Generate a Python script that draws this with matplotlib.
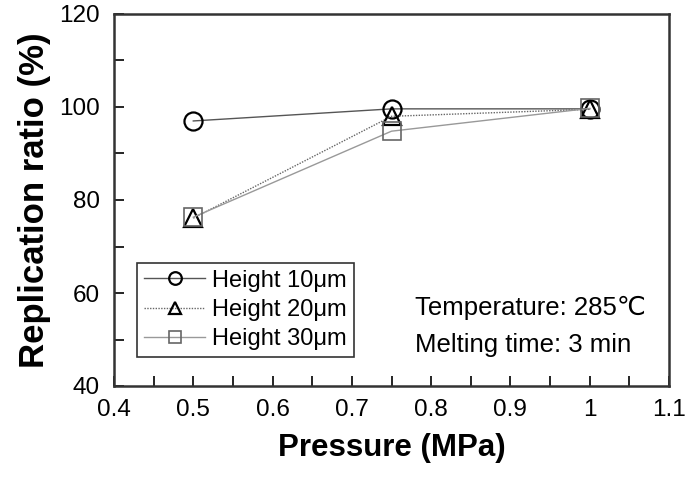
import numpy as np
import matplotlib.pyplot as plt
from matplotlib.ticker import MultipleLocator

plt.rcParams['font.family'] = ['Liberation Sans', 'DejaVu Sans']

pressure = [0.5, 0.75, 1.0]
h10 = [97.0, 99.6, 99.6]
h20 = [76.1, 98.0, 99.5]
h30 = [76.3, 94.8, 99.7]
labels = ['Height 10μm', 'Height 20μm', 'Height 30μm']
xticks = [0.4, 0.5, 0.6, 0.7, 0.8, 0.9, 1.0, 1.1]
xticklabels = ['0.4', '0.5', '0.6', '0.7', '0.8', '0.9', '1', '1.1']

fig = plt.figure(figsize=(6.85, 4.8), dpi=100)
ax = fig.add_axes([114 / 685, 1 - 386 / 480, (669 - 114) / 685, (386 - 14) / 480])

ax.plot(pressure, h10, color='#555555', lw=1.0, marker='o', ms=13,
        mfc='none', mec='black', mew=1.6, label=labels[0])
ax.plot(pressure, h20, color='#666666', lw=1.0, ls=(0, (1, 1)), marker='^', ms=13,
        mfc='none', mec='black', mew=1.6, label=labels[1])
ax.plot(pressure, h30, color='#999999', lw=1.0, marker='s', ms=13,
        mfc='none', mec='#666666', mew=1.2, label=labels[2])

ax.set_xlim(0.4, 1.1)
ax.set_ylim(40, 120)
ax.set_xticks(xticks)
ax.set_xticklabels(xticklabels)
ax.xaxis.set_minor_locator(MultipleLocator(0.05))
ax.yaxis.set_major_locator(MultipleLocator(20))
ax.yaxis.set_minor_locator(MultipleLocator(10))
ax.tick_params(which='both', direction='in', length=7, width=1.2, labelsize=17.5)
ax.tick_params(axis='x', pad=9)
ax.tick_params(axis='y', pad=10)
for s in ax.spines.values():
    s.set_linewidth(1.8)
    s.set_color('#333333')

ax.set_xlabel('Pressure (MPa)', fontsize=22.5, fontweight='bold', labelpad=9)
ax.set_ylabel('Replication ratio (%)', fontsize=25, fontweight='bold', labelpad=6)

leg = ax.legend(loc='lower left', bbox_to_anchor=(0.041, 0.078), borderaxespad=0,
                fontsize=17, frameon=True, fancybox=False, edgecolor='black',
                handlelength=2.6, handletextpad=0.3, borderpad=0.3,
                labelspacing=0.3, markerscale=0.7)
leg.get_frame().set_linewidth(1.2)

ax.text(0.542, 0.21, 'Temperature: 285℃', transform=ax.transAxes, fontsize=18.5, va='center')
ax.text(0.542, 0.11, 'Melting time: 3 min', transform=ax.transAxes, fontsize=18.5, va='center')

plt.savefig('out.png', dpi=100)
